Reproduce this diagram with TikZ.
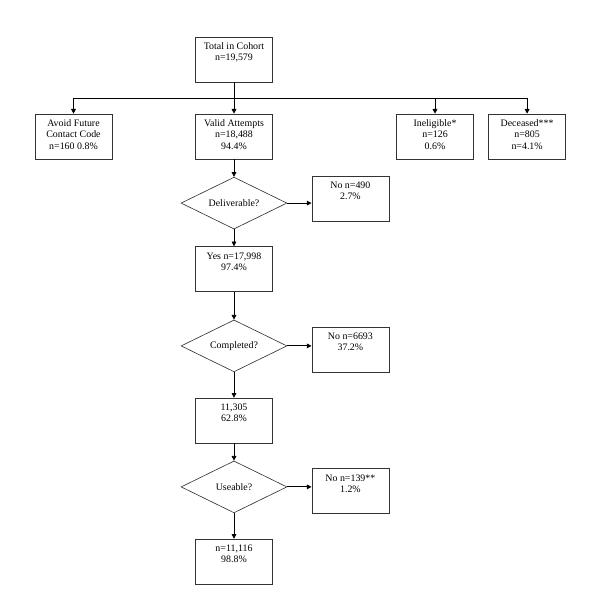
\documentclass[tikz,border=0pt]{standalone}
\usepackage{fontspec}
\setmainfont{Liberation Serif}
\usetikzlibrary{positioning, arrows.meta, shapes.geometric}

\begin{document}
\begin{tikzpicture}[
  font=\fontsize{9.4}{10.5}\selectfont,
  countbox/.style={draw=black!80, line width=0.6pt, inner xsep=0pt, inner ysep=0.2cm,
    execute at begin node={\begin{minipage}[t][1.1cm][t]{2.57cm}\centering},
    execute at end node={\end{minipage}}},
  decision/.style={diamond, aspect=2, draw=black!80, line width=0.6pt,
    minimum width=3.53cm, minimum height=1.73cm, inner sep=0pt},
  arrow/.style={-{Triangle[length=4.5pt,width=4.5pt]}, line width=0.8pt},
  link/.style={line width=0.8pt},
]
\useasboundingbox (0,0) rectangle (20,-20.3);

% ---- top: cohort split ----
\node[countbox] (total) at (7.8,-1.98) {Total in Cohort\\n=19,579};
\coordinate (bus) at (7.8,-3.27);
\node[countbox] (avoid) at (2.45,-4.55) {Avoid Future\\Contact Code\\n=160 0.8\%};
\node[countbox] (valid) at (7.8,-4.55) {Valid Attempts\\n=18,488\\94.4\%};
\node[countbox] (inel) at (14.5,-4.55) {Ineligible*\\n=126\\0.6\%};
\node[countbox] (dec) at (17.57,-4.55) {Deceased***\\n=805\\n=4.1\%};
\draw[link] (total) -- (bus);
\draw[link] (bus -| avoid) -- (bus -| dec);
\foreach \b in {avoid, valid, inel, dec}
  \draw[arrow] (bus -| \b) -- (\b);

% ---- middle: deliverable / completed ----
\node[decision] (dlv) at (7.8,-6.77) {Deliverable?};
\node[countbox] (no1) at (11.68,-6.62) {No n=490\\2.7\%};
\node[countbox] (yes) at (7.8,-8.97) {Yes n=17,998\\97.4\%};
\node[decision] (cmp) at (7.8,-11.53) {Completed?};
\node[countbox] (no2) at (11.68,-11.65) {No n=6693\\37.2\%};
\node[countbox] (done) at (7.8,-14.02) {11,305\\62.8\%};

% ---- bottom: useable ----
\node[decision] (use) at (7.8,-16.23) {Useable?};
\node[countbox] (no3) at (11.68,-16.37) {No n=139**\\1.2\%};
\node[countbox] (final) at (7.8,-18.72) {n=11,116\\98.8\%};

\draw[arrow] (valid) -- (dlv);
\draw[arrow] (dlv) -- (yes);
\draw[arrow] (yes) -- (cmp);
\draw[arrow] (cmp) -- (done);
\draw[arrow] (done) -- (use);
\draw[arrow] (use) -- (final);
\draw[arrow] (dlv.east) -- (dlv.east -| no1.west);
\draw[arrow] (cmp.east) -- (cmp.east -| no2.west);
\draw[arrow] (use.east) -- (use.east -| no3.west);

\end{tikzpicture}
\end{document}
